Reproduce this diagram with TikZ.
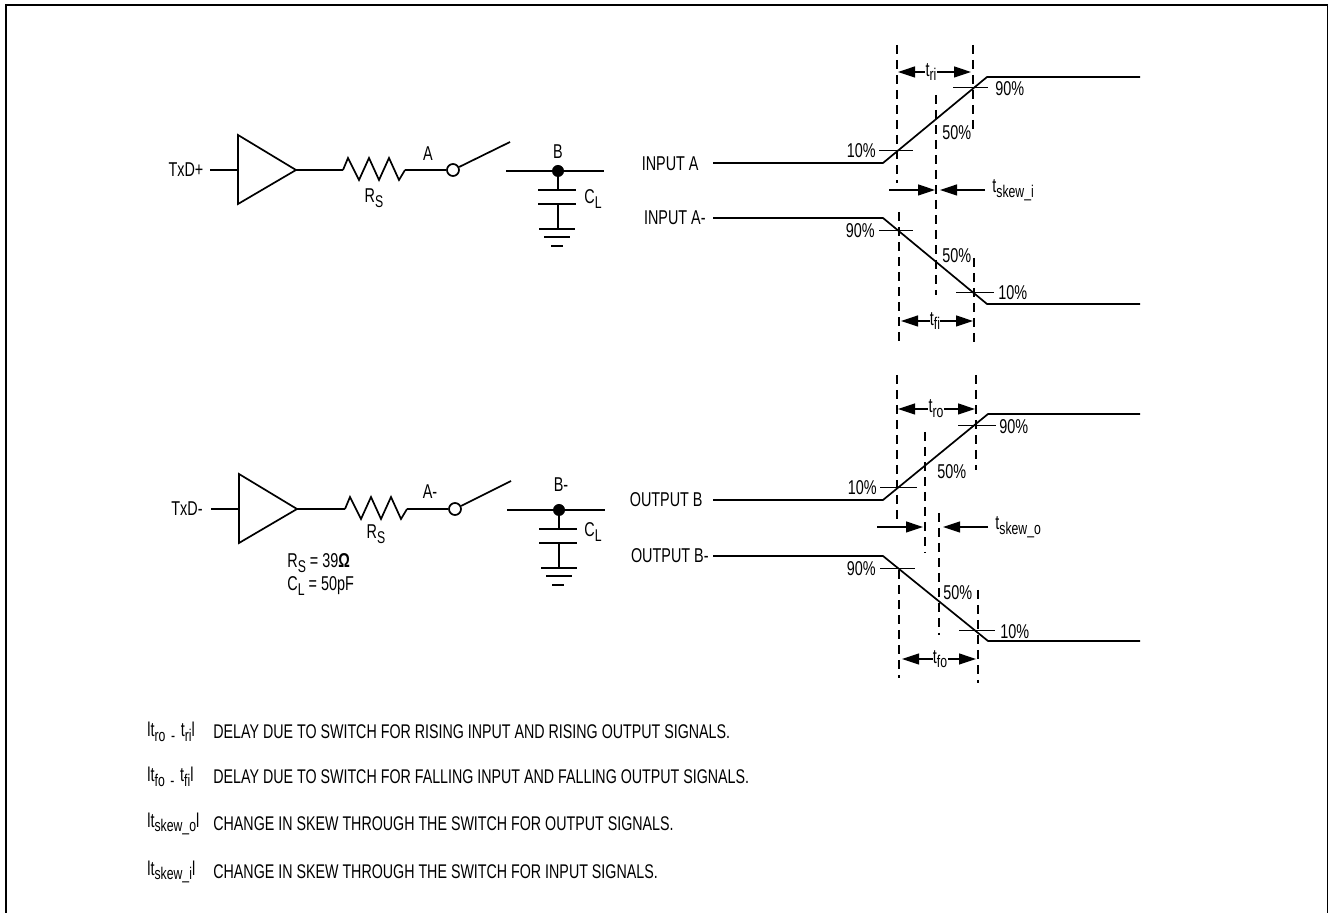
\documentclass[tikz,border=0pt]{standalone}
\usepackage{fontspec}
\setmainfont[FakeStretch=0.72]{Liberation Sans}
\usetikzlibrary{arrows.meta}
\newcommand{\subtxt}[1]{\raisebox{-0.45ex}{\fontsize{8.5}{9}\selectfont #1}}
\tikzset{
  wire/.style={line width=0.85pt},
  tick/.style={line width=0.5pt},
  guide/.style={line width=0.7pt,dash pattern=on 4.5pt off 3pt},
  into/.style={line width=0.6pt,-{Triangle[length=8.5pt,width=5.5pt]}},
  lbl/.style={inner sep=0pt,font=\fontsize{10}{11}\selectfont},
  lleft/.style={lbl,anchor=west},
  lright/.style={lbl,anchor=east},
  note/.style={lleft,font=\fontsize{9.9}{12}\selectfont}
}
\begin{document}
\begin{tikzpicture}[x=0.5pt,y=-0.5pt]
\useasboundingbox (0,0) rectangle (1328,913);
% frame
\coordinate (FA) at (5.5,913);
\coordinate (FB) at (5.5,5);
\coordinate (FC) at (1327.5,5);
\coordinate (FD) at (1327.5,913);
\draw[line width=1pt] (FA) -- (FB) -- (FC) -- (FD);
% upper circuit
\node[lbl] (TxDp) at (186,170) {TxD+};
\coordinate (Ip) at (210,170);
\coordinate (Tp) at (238,170);
\coordinate (Op) at (296,170);
\draw[wire] (Ip) -- (Tp);
\draw[wire] (238,135) -- (Op) -- (238,204) -- cycle;
\coordinate (Rp1) at (343,170);
\coordinate (Rp2) at (405,170);
\draw[wire] (Op) -- (Rp1);
\draw[wire] (Rp1) -- (348,158) -- (359,180) -- (369,158) -- (379,180) -- (389,158) -- (399,180) -- (Rp2);
\node[lbl] (Rsp) at (374,198) {R\subtxt{S}};
\node[lbl] (Ap) at (428,154) {A};
\node[draw,wire,circle,inner sep=0pt,minimum size=6pt] (Swp) at (453,170) {};
\coordinate (Arp) at (510,142);
\draw[wire] (Rp2) -- (Swp);
\draw[wire] (Swp) -- (Arp);
\coordinate (Bp1) at (506,171);
\coordinate (Bp2) at (604,171);
\node[fill=black,circle,inner sep=0pt,minimum size=6pt] (Dotp) at (558,171) {};
\node[lbl] (Bpl) at (558,152) {B};
\draw[wire] (Bp1) -- (Bp2);
\coordinate (Cp1) at (558,190);
\coordinate (Cp2) at (558,204);
\coordinate (Gp) at (558,229);
\draw[wire] (Dotp) -- (Cp1);
\draw[wire] (538,190) -- (576,190);
\draw[wire] (538,204) -- (576,204);
\draw[wire] (Cp2) -- (Gp);
\draw[wire] (539,229) -- (575,229);
\draw[wire] (544,237) -- (570,237);
\draw[wire] (551,246) -- (563,246);
\node[lbl] (Clp) at (593,199) {C\subtxt{L}};
% lower circuit
\node[lbl] (TxDm) at (187,509) {TxD-};
\coordinate (Im) at (211,509);
\coordinate (Tm) at (239,509);
\coordinate (Om) at (297,509);
\draw[wire] (Im) -- (Tm);
\draw[wire] (239,474) -- (Om) -- (239,543) -- cycle;
\coordinate (Rm1) at (345,509);
\coordinate (Rm2) at (407,509);
\draw[wire] (Om) -- (Rm1);
\draw[wire] (Rm1) -- (350,497) -- (361,519) -- (371,497) -- (381,519) -- (391,497) -- (401,519) -- (Rm2);
\node[lbl] (Rsm) at (376,534) {R\subtxt{S}};
\node[lbl] (Am) at (430,492) {A-};
\node[draw,wire,circle,inner sep=0pt,minimum size=6pt] (Swm) at (455,509) {};
\coordinate (Arm) at (511,481);
\draw[wire] (Rm2) -- (Swm);
\draw[wire] (Swm) -- (Arm);
\coordinate (Bm1) at (507,510);
\coordinate (Bm2) at (605,510);
\node[fill=black,circle,inner sep=0pt,minimum size=6pt] (Dotm) at (559,510) {};
\node[lbl] (Bml) at (561,485) {B-};
\draw[wire] (Bm1) -- (Bm2);
\coordinate (Cm1) at (559,529);
\coordinate (Cm2) at (559,543);
\coordinate (Gm) at (559,568);
\draw[wire] (Dotm) -- (Cm1);
\draw[wire] (539,529) -- (577,529);
\draw[wire] (539,543) -- (577,543);
\draw[wire] (Cm2) -- (Gm);
\draw[wire] (541,568) -- (577,568);
\draw[wire] (546,576) -- (572,576);
\draw[wire] (552,585) -- (564,585);
\node[lbl] (Clm) at (593,532) {C\subtxt{L}};
\node[lleft] (Rsv) at (287,563) {R\subtxt{S} = 39\textbf{Ω}};
\node[lleft] (Clv) at (287,586) {C\subtxt{L} = 50pF};
% input waves
\node[lright] (InA) at (699,164) {INPUT A};
\node[lright] (InAm) at (706,218) {INPUT A-};
\draw[wire] (713,163) -- (883,163) -- (987,77) -- (1140,77);
\draw[wire] (713,218) -- (883,218) -- (987,304) -- (1140,304);
\draw[guide] (897,45) -- (897,183);
\draw[guide] (973,45) -- (973,135);
\draw[guide] (936,95) -- (936,295);
\draw[guide] (899,212) -- (899,347);
\draw[guide] (974,258) -- (974,347);
\draw[tick] (879,151) -- (913,151);
\draw[tick] (953,88) -- (988,88);
\draw[tick] (879,231) -- (913,231);
\draw[tick] (956,293) -- (994,293);
\node[lright] (Ta) at (876,151) {10\%};
\node[lleft] (Tb) at (995,89) {90\%};
\node[lleft] (Tc) at (942,133) {50\%};
\node[lright] (Td) at (875,231) {90\%};
\node[lleft] (Te) at (942,256) {50\%};
\node[lleft] (Tf) at (998,293) {10\%};
\node[lbl] (Tri) at (931,72) {t\subtxt{ri}};
\draw[into] (Tri.west) -- (898,72);
\draw[into] (Tri.east) -- (971,72);
\node[lbl] (Tfi) at (935,321) {t\subtxt{fi}};
\draw[into] (Tfi.west) -- (901,321);
\draw[into] (Tfi.east) -- (973,321);
\coordinate (Sa) at (889,190);
\coordinate (Sb) at (935,190);
\coordinate (Sc) at (940,190);
\draw[into] (Sa) -- (Sb);
\node[lleft] (Tsi) at (992,190) {t\subtxt{skew\_i}};
\coordinate (Sg) at (985,190);
\draw[into] (Sg) -- (Sc);
% output waves
\node[lright] (OutB) at (703,500) {OUTPUT B};
\node[lright] (OutBm) at (709,556) {OUTPUT B-};
\draw[wire] (713,500) -- (883,500) -- (988,414) -- (1140,414);
\draw[wire] (713,556) -- (883,556) -- (988,641) -- (1140,641);
\draw[guide] (897,375) -- (897,520);
\draw[guide] (976,375) -- (976,470);
\draw[guide] (925,432) -- (925,553);
\draw[guide] (939,513) -- (939,635);
\draw[guide] (899,570) -- (899,678);
\draw[guide] (978,590) -- (978,683);
\draw[tick] (880,488) -- (917,488);
\draw[tick] (958,426) -- (996,426);
\draw[tick] (880,569) -- (915,569);
\draw[tick] (959,630.5) -- (995,630.5);
\node[lright] (Tg) at (877,488) {10\%};
\node[lleft] (Th) at (999,427) {90\%};
\node[lleft] (Ti) at (937,472) {50\%};
\node[lright] (Tj) at (876,569) {90\%};
\node[lleft] (Tk) at (943,593) {50\%};
\node[lleft] (Tl) at (1000,632) {10\%};
\node[lbl] (Tro) at (936,409) {t\subtxt{ro}};
\draw[into] (Tro.west) -- (898,409);
\draw[into] (Tro.east) -- (975,409);
\node[lbl] (Tfo) at (940,659) {t\subtxt{fo}};
\draw[into] (Tfo.west) -- (902,659);
\draw[into] (Tfo.east) -- (976,659);
\coordinate (Sd) at (877,527);
\coordinate (Se) at (923,527);
\coordinate (Sf) at (943,527);
\coordinate (Sh) at (988,527);
\draw[into] (Sd) -- (Se);
\node[lleft] (Tso) at (995,527) {t\subtxt{skew\_o}};
\draw[into] (Sh) -- (Sf);
% notes
\node[lleft] (Na) at (147,732) {lt\subtxt{ro\,\,-\,\,}t\subtxt{ri}l};
\node[lleft] (Nb) at (147,777) {lt\subtxt{fo\,\,-\,\,}t\subtxt{fi}l};
\node[lleft] (Nc) at (147,824) {lt\subtxt{skew\_o}l};
\node[lleft] (Nd) at (147,872) {lt\subtxt{skew\_i}l};
\node[note] (Ne) at (213,732) {DELAY DUE TO SWITCH FOR RISING INPUT AND RISING OUTPUT SIGNALS.};
\node[note] (Nf) at (213,777) {DELAY DUE TO SWITCH FOR FALLING INPUT AND FALLING OUTPUT SIGNALS.};
\node[note] (Ng) at (213,824) {CHANGE IN SKEW THROUGH THE SWITCH FOR OUTPUT SIGNALS.};
\node[note] (Nh) at (213,872) {CHANGE IN SKEW THROUGH THE SWITCH FOR INPUT SIGNALS.};
\end{tikzpicture}
\end{document}
